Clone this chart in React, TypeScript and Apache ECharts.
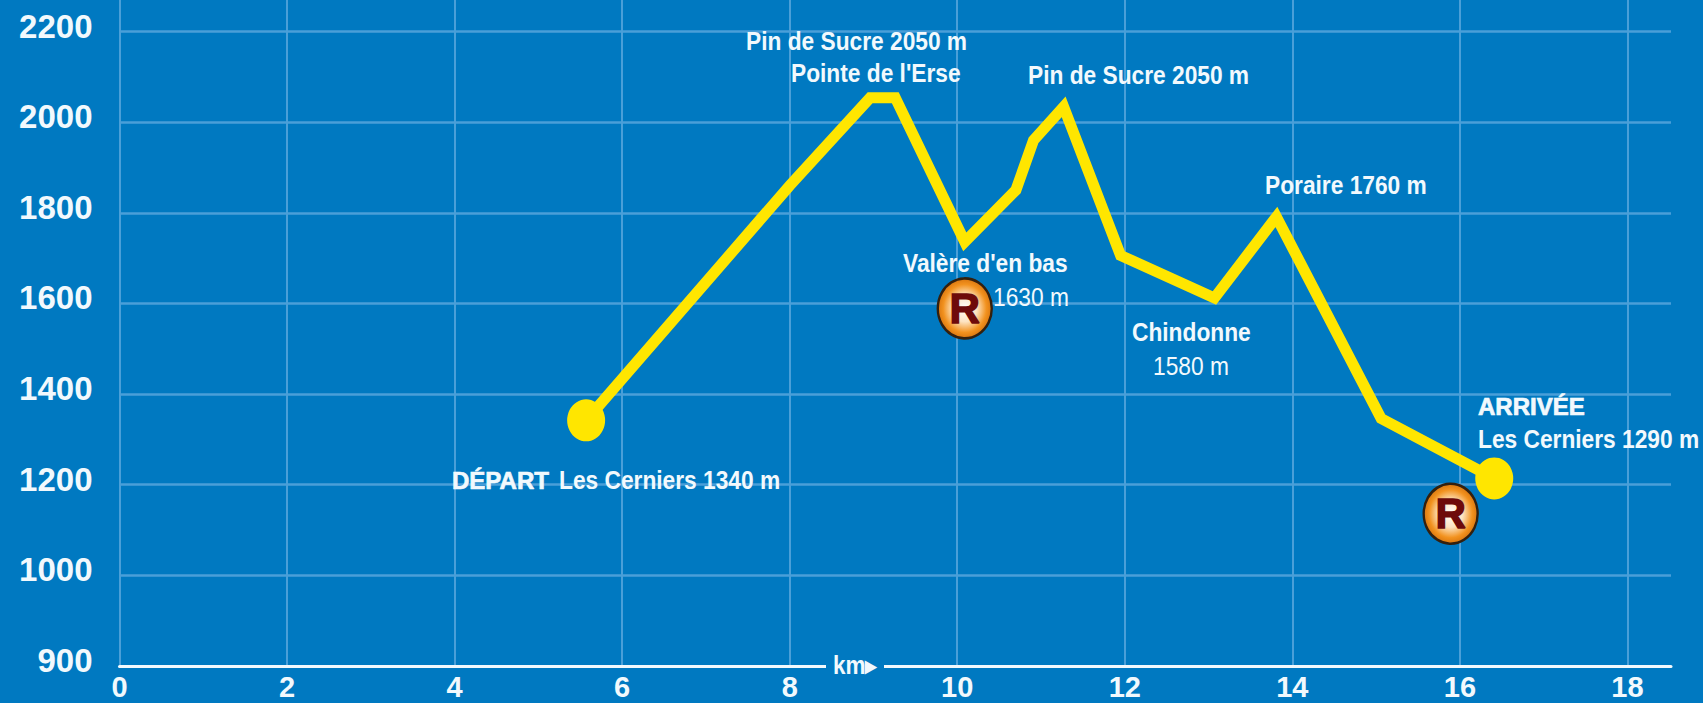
import React, { useEffect, useRef } from "react";
import * as echarts from "echarts";

const kmValues = [5.57, 8.0, 8.96, 9.26, 10.09, 10.7, 10.91, 11.27, 11.95, 13.07, 13.81, 15.06, 16.41];
const altitudeValues = [1342, 1860, 2054, 2054, 1736, 1850, 1960, 2034, 1706, 1612, 1791, 1346, 1214];
const endpointPoints = [[5.57, 1342], [16.41, 1214]];
const refugePoints = [[10.09, 1589], [15.89, 1136]];
const xTicks = [0, 2, 4, 6, 8, 10, 12, 14, 16, 18];
const yAxisBottomLabel = "900";

const SANS = '"Liberation Sans", sans-serif';
const BG = "#0079c1";
const GRID = "#4a9fd8";
const TEXT = "#f2f9fd";

const notes: [string, number, number, string][] = [
  ["Pin de Sucre 2050 m", 746, 41, "bold"],
  ["Pointe de l'Erse", 791, 73, "bold"],
  ["Pin de Sucre 2050 m", 1028, 75, "bold"],
  ["Poraire 1760 m", 1265, 185, "bold"],
  ["Valère d'en bas", 903, 263, "bold"],
  ["1630 m", 993, 297, "normal"],
  ["Chindonne", 1132, 332, "bold"],
  ["1580 m", 1153, 366, "normal"],
  ["Les Cerniers 1340 m", 559, 480, "bold"],
  ["Les Cerniers 1290 m", 1478, 439, "bold"],
];

export default function App() {
  const ref = useRef<HTMLDivElement>(null);
  useEffect(() => {
    document.body.style.margin = "0";
    const chart = echarts.init(ref.current!, null, { renderer: "svg" });
    chart.setOption({
      animation: false,
      backgroundColor: BG,
      grid: { left: 119.5, right: 32, top: 0, bottom: 37 },
      xAxis: {
        type: "value",
        min: 0,
        max: 18.52,
        interval: 2,
        axisLine: { show: true, onZero: false, lineStyle: { color: TEXT, width: 3 } },
        axisTick: { show: false },
        axisLabel: {
          color: TEXT,
          fontFamily: SANS,
          fontWeight: "bold",
          fontSize: 29,
          margin: 6,
          showMaxLabel: false,
          formatter: (v: number) => (xTicks.includes(v) ? String(v) : ""),
        },
        splitLine: { show: true, showMaxLine: false, lineStyle: { color: GRID, width: 2 } },
      },
      yAxis: {
        type: "value",
        min: 800,
        max: 2269.6,
        interval: 200,
        axisLine: { show: false },
        axisTick: { show: false },
        axisLabel: {
          color: TEXT,
          fontFamily: SANS,
          fontWeight: "bold",
          fontSize: 33,
          margin: 27,
          verticalAlign: "bottom",
          lineHeight: 11,
          showMaxLabel: false,
          formatter: (v: number) => (v === 800 ? yAxisBottomLabel : String(v)),
        },
        splitLine: { show: true, showMaxLine: false, lineStyle: { color: GRID, width: 2.5 } },
      },
      series: [
        {
          type: "line",
          data: kmValues.map((k, i) => [k, altitudeValues[i]]),
          symbol: "none",
          lineStyle: { color: "#ffe600", width: 11, join: "miter" },
          z: 3,
        },
        {
          type: "scatter",
          data: endpointPoints,
          symbol: "circle",
          symbolSize: [38, 42],
          itemStyle: { color: "#ffe600", opacity: 1 },
          z: 4,
        },
        {
          type: "scatter",
          data: refugePoints,
          symbol: "circle",
          symbolSize: [54, 60],
          itemStyle: {
            opacity: 1,
            color: new echarts.graphic.RadialGradient(0.5, 0.5, 0.5, [
              { offset: 0, color: "#ffffff" },
              { offset: 0.45, color: "#fde3c0" },
              { offset: 0.8, color: "#f2921f" },
              { offset: 1, color: "#d9760f" },
            ]),
            borderColor: "#33200f",
            borderWidth: 2.5,
          },
          label: {
            show: true,
            position: "inside",
            formatter: "R",
            color: "#6e0a0a",
            fontFamily: SANS,
            fontWeight: "bold",
            fontSize: 42,
            textBorderColor: "#6e0a0a",
            textBorderWidth: 1.5,
          },
          z: 5,
        },
      ],
      graphic: [
        ...notes.map(([text, x, y, weight]) => ({
          type: "text",
          x,
          y,
          z: 10,
          scaleX: 0.875,
          style: {
            text,
            fill: TEXT,
            font: `${weight} 26px ${SANS}`,
            textAlign: "left",
            textVerticalAlign: "middle",
          },
        })),
        ...([["DÉPART", 452, 480], ["ARRIVÉE", 1478, 406]] as [string, number, number][]).map(([text, x, y]) => ({
          type: "text",
          x,
          y,
          z: 10,
          style: {
            text,
            fill: TEXT,
            stroke: TEXT,
            lineWidth: 0.7,
            font: `bold 24px ${SANS}`,
            textVerticalAlign: "middle",
          },
        })),
        { type: "rect", z: 9, shape: { x: 826, y: 660, width: 58, height: 12 }, style: { fill: BG } },
        {
          type: "text",
          x: 833,
          y: 665,
          z: 10,
          scaleX: 0.9,
          style: {
            text: "km▸",
            fill: TEXT,
            font: `bold 25px ${SANS}`,
            textVerticalAlign: "middle",
          },
        },
      ],
    });
    return () => chart.dispose();
  }, []);
  return <div ref={ref} style={{ width: 1703, height: 703 }} />;
}
